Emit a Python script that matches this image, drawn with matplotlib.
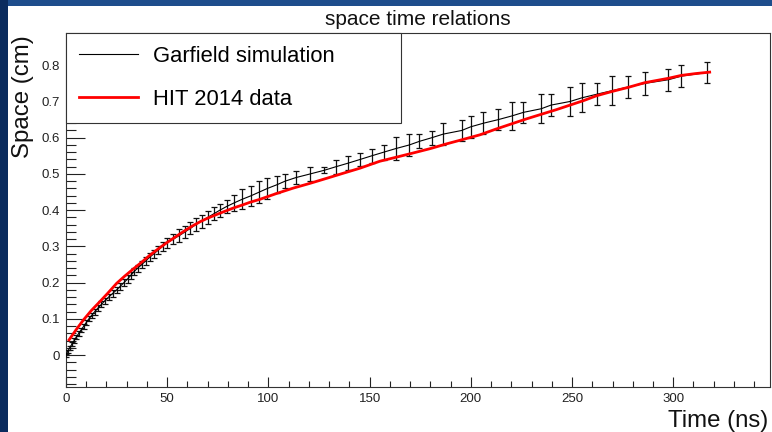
import matplotlib
matplotlib.use('Agg')
import matplotlib.pyplot as plt
from matplotlib.patches import Rectangle
from matplotlib.ticker import MultipleLocator, FuncFormatter

# Garfield simulation: drift distance (cm) vs drift time (ns), with errors on distance
garfield_space = [0.00, 0.01, 0.02, 0.03, 0.04, 0.05, 0.06, 0.07, 0.08, 0.09,
                  0.10, 0.11, 0.12, 0.13, 0.14, 0.15, 0.16, 0.17, 0.18, 0.19,
                  0.20, 0.21, 0.22, 0.23, 0.24, 0.25, 0.26, 0.27, 0.28, 0.29,
                  0.30, 0.31, 0.32, 0.33, 0.34, 0.35, 0.36, 0.37, 0.38, 0.39,
                  0.40, 0.41, 0.42, 0.43, 0.44, 0.45, 0.46, 0.47, 0.48, 0.49,
                  0.50, 0.51, 0.52, 0.53, 0.54, 0.55, 0.56, 0.57, 0.58, 0.59,
                  0.60, 0.61, 0.62, 0.63, 0.64, 0.65, 0.66, 0.67, 0.68, 0.69,
                  0.70, 0.71, 0.72, 0.73, 0.74, 0.75, 0.76, 0.77, 0.78]
garfield_time = [0.0, 0.8, 1.8, 2.9, 4.0, 5.1, 6.3, 7.5, 8.8, 10.0,
                 11.3, 12.7, 14.2, 15.8, 17.5, 19.2, 21.0, 23.0, 25.0, 26.8,
                 28.6, 30.4, 32.0, 33.5, 35.4, 37.4, 39.4, 41.3, 43.5, 45.6,
                 47.7, 50.0, 53.0, 56.0, 58.8, 61.5, 64.0, 67.0, 70.0, 73.0,
                 76.0, 79.3, 83.0, 87.0, 91.5, 95.5, 99.5, 104.1, 108.2, 113.6,
                 120.6, 127.5, 133.4, 139.5, 145.3, 151.0, 156.9, 162.9, 169.6, 174.6,
                 180.7, 186.4, 195.5, 199.9, 206.2, 213.6, 220.2, 226.0, 234.8, 239.6,
                 249.0, 254.8, 262.2, 269.9, 277.8, 286.1, 297.6, 304.0, 316.8]
garfield_err = [0.004, 0.005, 0.005, 0.005, 0.006, 0.006, 0.006, 0.006, 0.007, 0.007,
                0.007, 0.007, 0.008, 0.008, 0.008, 0.008, 0.008, 0.009, 0.009, 0.009,
                0.009, 0.010, 0.010, 0.010, 0.010, 0.010, 0.011, 0.011, 0.011, 0.012,
                0.012, 0.013, 0.014, 0.018, 0.016, 0.017, 0.018, 0.018, 0.019, 0.018,
                0.018, 0.018, 0.021, 0.028, 0.028, 0.030, 0.029, 0.023, 0.019, 0.019,
                0.019, 0.008, 0.019, 0.020, 0.019, 0.020, 0.021, 0.031, 0.030, 0.019,
                0.019, 0.030, 0.028, 0.030, 0.030, 0.029, 0.039, 0.029, 0.040, 0.030,
                0.039, 0.040, 0.030, 0.039, 0.030, 0.031, 0.031, 0.031, 0.029]

# HIT 2014 measured relation
hit_time = [1.5, 5.0, 8.6, 12.5, 16.8, 20.5, 25.0, 29.0, 33.3, 37.5,
            41.5, 45.5, 49.7, 54.0, 58.0, 62.0, 66.2, 70.0, 74.4, 78.5,
            82.7, 87.0, 91.0, 95.8, 104.0, 112.3, 120.5, 128.8, 137.0, 145.3,
            155.0, 163.0, 171.6, 180.0, 188.0, 196.0, 204.5, 212.0, 220.0, 227.5,
            235.0, 242.0, 249.0, 256.0, 262.2, 270.0, 277.8, 286.0, 297.6, 304.0,
            311.0, 318.0]
hit_space = [0.042, 0.070, 0.097, 0.123, 0.148, 0.170, 0.198, 0.218, 0.238, 0.257,
             0.276, 0.293, 0.310, 0.326, 0.341, 0.355, 0.368, 0.378, 0.388, 0.397,
             0.406, 0.414, 0.422, 0.430, 0.446, 0.461, 0.474, 0.488, 0.502, 0.516,
             0.535, 0.546, 0.558, 0.570, 0.583, 0.595, 0.608, 0.623, 0.638, 0.652,
             0.665, 0.677, 0.690, 0.703, 0.716, 0.728, 0.739, 0.752, 0.764, 0.772,
             0.777, 0.781]

plt.rcParams['font.family'] = ['Liberation Sans', 'DejaVu Sans']

W, H = 772, 432
fig = plt.figure(figsize=(W / 100, H / 100), dpi=100, facecolor='white')

# blue canvas border on the left and top
fig.patches.append(Rectangle((0, 0), 8 / W, 1, transform=fig.transFigure,
                             facecolor='#0a2b5e', edgecolor='none', zorder=-10))
fig.patches.append(Rectangle((8 / W, 1 - 6 / H), 1, 6 / H, transform=fig.transFigure,
                             facecolor='#1e4d8c', edgecolor='none', zorder=-10))

ax = fig.add_axes([66 / W, 1 - 387 / H, 704 / W, 354 / H])
ax.set_facecolor('white')

ax.errorbar(garfield_time, garfield_space, yerr=garfield_err, fmt='none',
            ecolor='#111111', elinewidth=0.9, capsize=2.2, capthick=0.9, zorder=3)
ax.plot(garfield_time, garfield_space, color='black', lw=0.8,
        label='Garfield simulation', zorder=3)
ax.plot(hit_time, hit_space, color='red', lw=2.0, label='HIT 2014 data', zorder=4)

ax.set_xlim(0, 347.8)
ax.set_ylim(-0.088, 0.889)

ax.xaxis.set_major_locator(MultipleLocator(50))
ax.xaxis.set_minor_locator(MultipleLocator(10))
ax.yaxis.set_major_locator(MultipleLocator(0.1))
ax.yaxis.set_minor_locator(MultipleLocator(0.02))
ax.yaxis.set_major_formatter(FuncFormatter(lambda v, p: '0' if abs(v) < 1e-9 else '%.1f' % v))
ax.xaxis.set_major_formatter(FuncFormatter(lambda v, p: '%d' % round(v)))

ax.tick_params(axis='both', which='both', direction='in', top=False, right=False,
               labelsize=9.5, colors='#222222', width=0.8)
ax.tick_params(axis='y', which='major', length=13.5, pad=4.5)
ax.tick_params(axis='y', which='minor', length=7)
ax.tick_params(axis='x', which='major', length=7.5, pad=4)
ax.tick_params(axis='x', which='minor', length=4.3)
for s in ax.spines.values():
    s.set_linewidth(0.8)
    s.set_color('#333333')

fig.text(417.5 / W, 1 - 25 / H, 'space time relations', ha='center', va='baseline',
         fontsize=15, color='#111111')
fig.text(23 / W, 1 - 35 / H, 'Space (cm)', rotation=90, ha='center', va='top',
         fontsize=17.3, color='#111111')
fig.text(768 / W, 1 - 427 / H, 'Time (ns)', ha='right', va='baseline',
         fontsize=17.3, color='#111111')

leg = ax.legend(loc='upper left', bbox_to_anchor=(0, 1, 335 / 704, 0), mode='expand',
                fontsize=15.8, frameon=True, fancybox=False, framealpha=1,
                edgecolor='#333333', borderpad=0.6, labelspacing=0.98,
                handlelength=2.7, handletextpad=0.65, borderaxespad=0)
leg.get_frame().set_linewidth(0.8)

fig.savefig('out.png', dpi=100, facecolor=fig.get_facecolor())
